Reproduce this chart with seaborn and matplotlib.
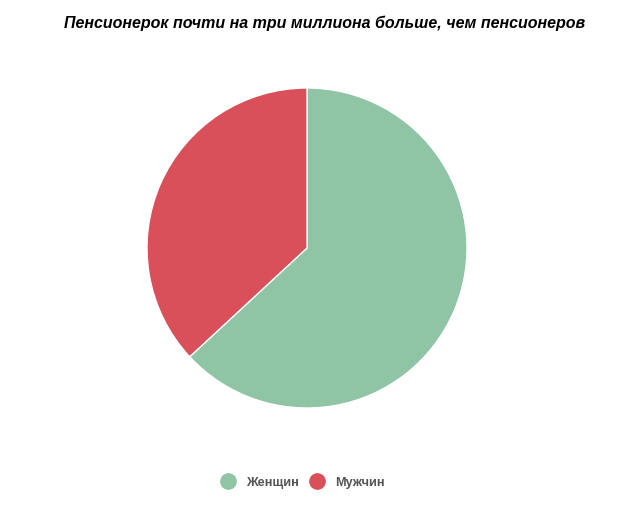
import matplotlib
matplotlib.use("Agg")
import matplotlib.pyplot as plt
import seaborn as sns
from matplotlib.lines import Line2D

labels = ["Женщин", "Мужчин"]
shares = [63.1, 36.9]
colors = ["#8fc4a5", "#d9505a"]
title = "Пенсионерок почти на три миллиона больше, чем пенсионеров"

sns.set_theme(style="white")
plt.rcParams["font.family"] = ["Liberation Sans", "DejaVu Sans"]

fig = plt.figure(figsize=(6.21, 5.10), dpi=100)
r = 160
ax = fig.add_axes([(307 - r) / 621, (510 - 249 - r) / 510, 2 * r / 621, 2 * r / 510])
ax.pie(shares, colors=colors, startangle=90, counterclock=False, radius=1,
       wedgeprops=dict(edgecolor="white", linewidth=1))
ax.set_xlim(-1, 1)
ax.set_ylim(-1, 1)
ax.set_aspect("equal")
ax.axis("off")

fig.text(325 / 621, 1 - 23 / 510, title, ha="center", va="center",
         fontsize=11.5, fontweight="bold", fontstyle="italic", color="black")

handles = [Line2D([0], [0], marker="o", linestyle="", markersize=11,
                  markerfacecolor=c, markeredgecolor=c) for c in colors]
leg = fig.legend(handles, labels, loc="center", bbox_to_anchor=(300 / 621, 1 - 483 / 510),
                 ncol=2, frameon=False, handletextpad=0.4, columnspacing=0.45,
                 prop=dict(size=9.2, weight="bold"))
for t in leg.get_texts():
    t.set_color("#555555")

fig.savefig("out.png", dpi=100)
